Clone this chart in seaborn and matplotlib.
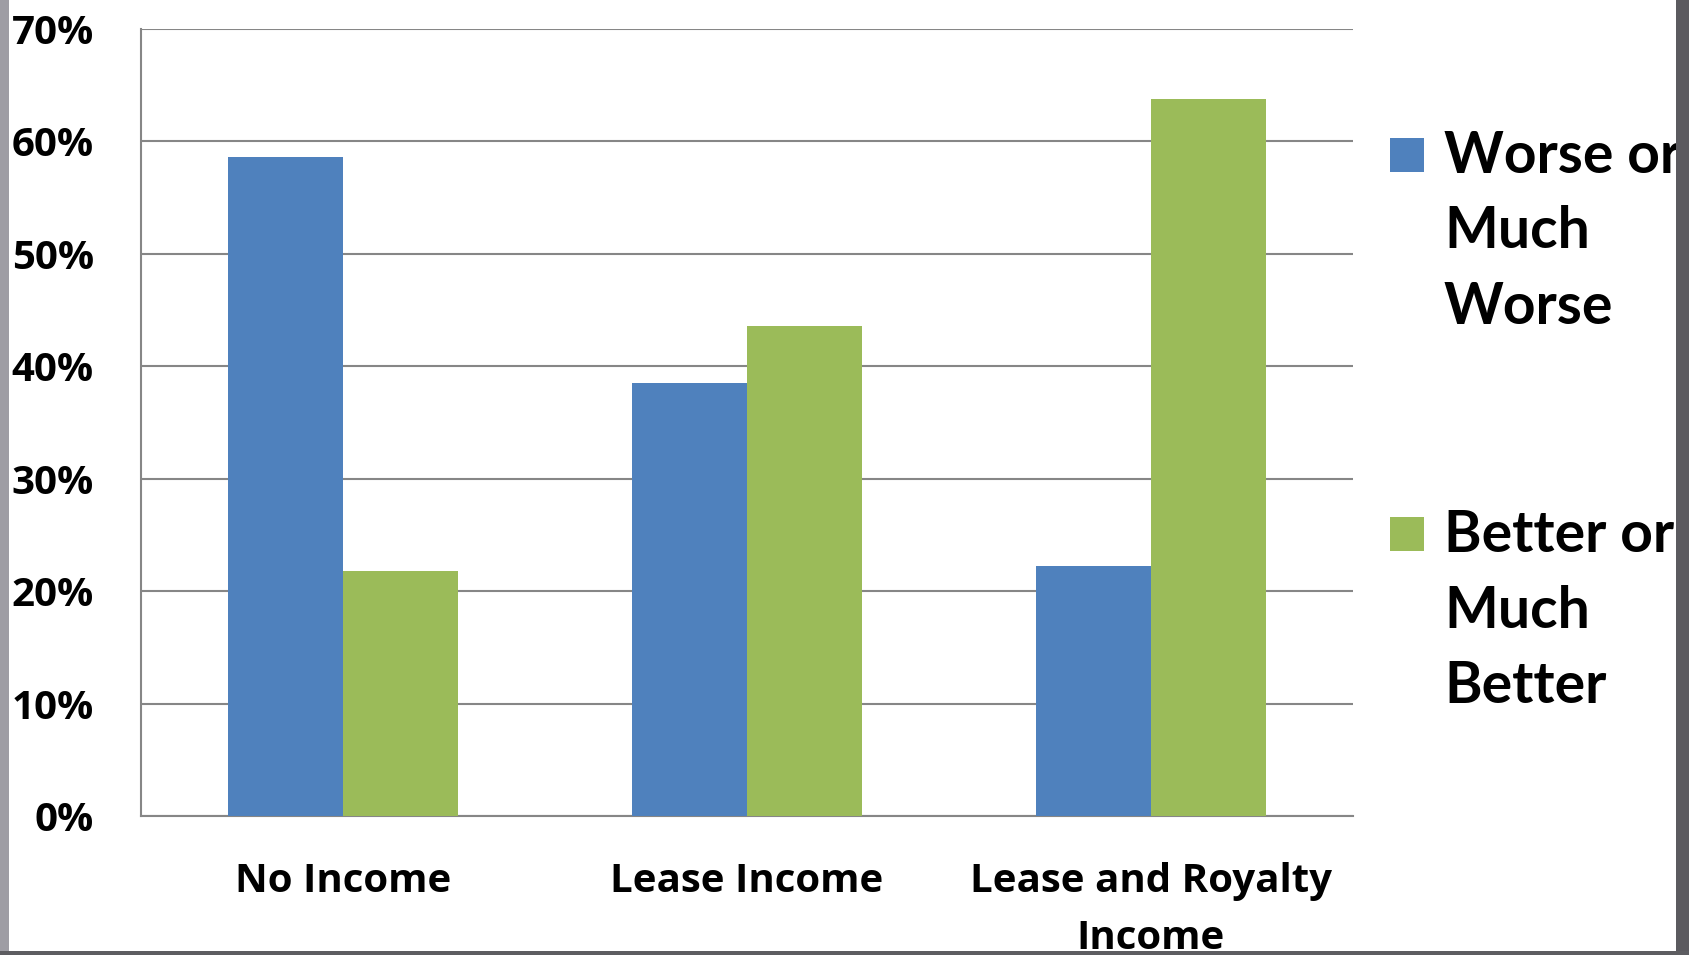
import matplotlib
matplotlib.use("Agg")
import matplotlib.pyplot as plt
from matplotlib.patches import Rectangle
from matplotlib.ticker import FixedLocator, FuncFormatter
import pandas as pd
import seaborn as sns

# Survey results: share of respondents by income type
categories = ["No Income", "Lease Income", "Lease and Royalty\nIncome"]
series_names = ["Worse or\nMuch\nWorse", "Better or\nMuch\nBetter"]
worse_values = [58.6, 38.5, 22.2]
better_values = [21.8, 43.6, 63.8]
y_ticks = [0, 10, 20, 30, 40, 50, 60, 70]

colors = ["#4F81BD", "#9BBB59"]
grid_color = "#868686"

df = pd.DataFrame({
    "category": categories * 2,
    "series": [series_names[0]] * 3 + [series_names[1]] * 3,
    "value": worse_values + better_values,
})

sns.set_style("white")
plt.rcParams["font.family"] = ["Open Sans", "DejaVu Sans"]
plt.rcParams["font.weight"] = "bold"

W, H = 1690, 955
fig = plt.figure(figsize=(W / 100, H / 100), dpi=100)
fig.patch.set_facecolor("white")

ax = fig.add_axes([141 / W, 1 - 816 / H, (1353 - 141) / W, (816 - 29) / H])
sns.barplot(data=df, x="category", y="value", hue="series",
            palette=colors, width=0.57, gap=0, saturation=1,
            legend=False, ax=ax, zorder=3, linewidth=0, edgecolor="none")

ax.set_xlim(-0.5, 2.5)
ax.set_ylim(0, 70)
ax.set_xlabel("")
ax.set_ylabel("")

ax.yaxis.set_major_locator(FixedLocator(y_ticks))
ax.yaxis.set_major_formatter(FuncFormatter(lambda v, p: f"{v:.0f}%"))
ax.set_axisbelow(True)
ax.yaxis.grid(True, color=grid_color, linewidth=1.5)
ax.xaxis.grid(False)

for side in ["top", "right"]:
    ax.spines[side].set_visible(False)
for side in ["left", "bottom"]:
    ax.spines[side].set_color(grid_color)
    ax.spines[side].set_linewidth(1.5)

ax.tick_params(axis="y", which="major", direction="out", length=12,
               width=1.5, color=grid_color, pad=22, labelsize=29)
ax.tick_params(axis="x", which="major", length=0, pad=33, labelsize=29)
ax.set_xticks([-0.5, 0.5, 1.5, 2.5], minor=True)
ax.tick_params(axis="x", which="minor", direction="out", length=12,
               width=1.5, color=grid_color)
for lab in ax.get_xticklabels():
    lab.set_linespacing(1.6)
for lab in ax.get_xticklabels() + ax.get_yticklabels():
    lab.set_fontweight("bold")
    lab.set_color("black")

# Legend drawn as coloured squares with wrapped labels, one text per line
legend_sq_top = [138, 517]
legend_base = [173, 552]
line_step = 75.5
for name, col, sq_top, base in zip(series_names, colors, legend_sq_top, legend_base):
    fig.patches.append(Rectangle((1390 / W, 1 - (sq_top + 34) / H), 34 / W, 34 / H,
                                 transform=fig.transFigure, facecolor=col,
                                 edgecolor="none"))
    for i, line in enumerate(name.split("\n")):
        fig.text(1444 / W, 1 - (base + i * line_step) / H, line, fontsize=41,
                 family=["Lato", "DejaVu Sans"], fontweight="bold",
                 va="baseline", ha="left", color="black")

# Slide border strips
fig.patches.append(Rectangle((0, 0), 9 / W, 1, transform=fig.transFigure,
                             facecolor="#9e9da4", edgecolor="none", zorder=10))
fig.patches.append(Rectangle((1676 / W, 0), 14 / W, 1, transform=fig.transFigure,
                             facecolor="#5b5a5f", edgecolor="none", zorder=10))
fig.patches.append(Rectangle((0, 0), 1, 4 / H, transform=fig.transFigure,
                             facecolor="#5d5d61", edgecolor="none", zorder=10))

fig.savefig("out.png", dpi=100, facecolor=fig.get_facecolor())
